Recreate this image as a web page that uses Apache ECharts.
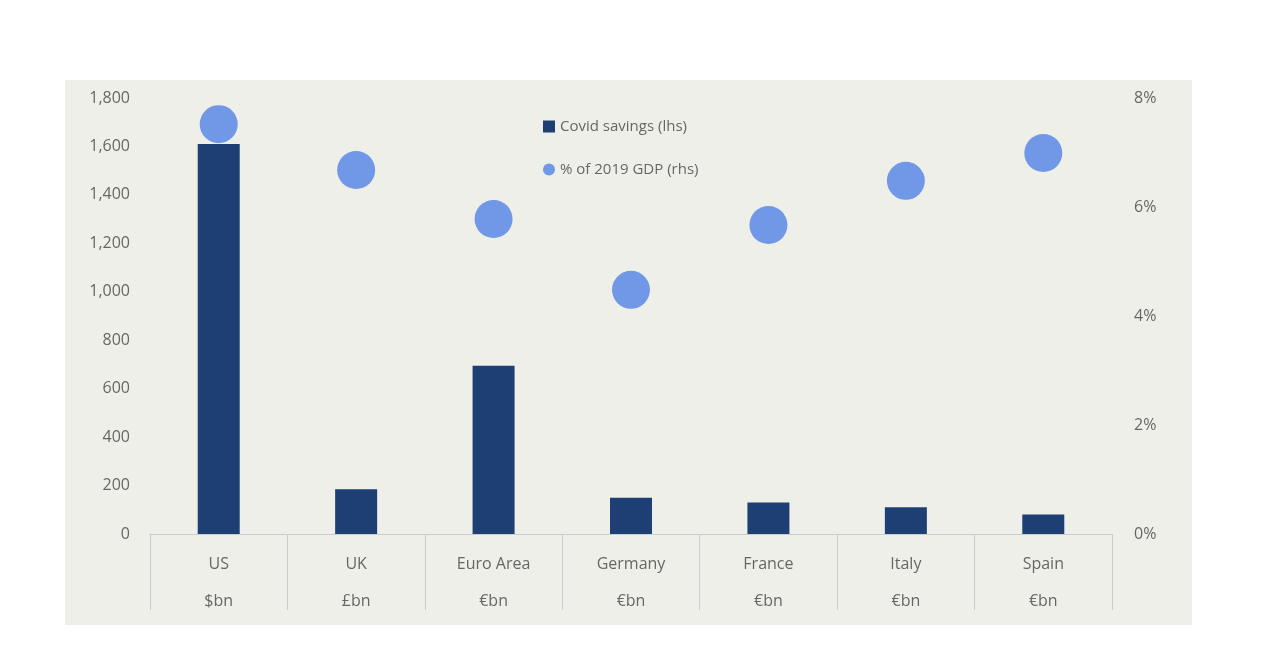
<!DOCTYPE html>
<html><head><meta charset="utf-8">
<script src="https://cdn.jsdelivr.net/npm/echarts@6/dist/echarts.min.js"></script>
<style>html,body{margin:0;background:#fff}#c{width:1280px;height:655px}</style>
</head><body><div id="c"></div>
<script>
const categories = ['US','UK','Euro Area','Germany','France','Italy','Spain'];
const units = ['$bn','£bn','€bn','€bn','€bn','€bn','€bn'];
const savings = [1610,185,695,150,130,110,80];
const gdpPct = [7.52,6.68,5.78,4.48,5.67,6.48,6.99];
const chart = echarts.init(document.getElementById('c'));
const txt = {color:'#666',fontFamily:'Open Sans',fontSize:16};
chart.setOption({
  graphic:[{type:'rect',shape:{x:65,y:80,width:1127,height:545},style:{fill:'#efefea'},z:-10}],
  grid:{left:150,right:168,top:98,bottom:121},
  legend:{orient:'vertical',left:538,top:114,itemGap:28,itemWidth:12,itemHeight:12,
    textStyle:{...txt,fontSize:15},
    data:[{name:'Covid savings (lhs)',icon:'rect'},{name:'% of 2019 GDP (rhs)',icon:'circle'}]},
  xAxis:{type:'category',data:categories.map((c,i)=>c+'\n'+units[i]),
    axisLine:{lineStyle:{color:'#ccc'}},
    axisTick:{show:true,length:76,interval:0,lineStyle:{color:'#ccc'}},
    axisLabel:{...txt,lineHeight:37,margin:12,interval:0}},
  yAxis:[{type:'value',min:0,max:1800,interval:200,splitLine:{show:false},
    axisLabel:{...txt,margin:20}},
    {type:'value',min:0,max:8,interval:2,splitLine:{show:false},
    axisLabel:{...txt,margin:22,formatter:v=>v+'%'}}],
  series:[{name:'Covid savings (lhs)',type:'bar',data:savings,barWidth:42,itemStyle:{color:'#1d3f74'}},
    {name:'% of 2019 GDP (rhs)',type:'scatter',yAxisIndex:1,data:gdpPct,symbolSize:38,itemStyle:{color:'#7098e6',opacity:1}}]
});
</script></body></html>
